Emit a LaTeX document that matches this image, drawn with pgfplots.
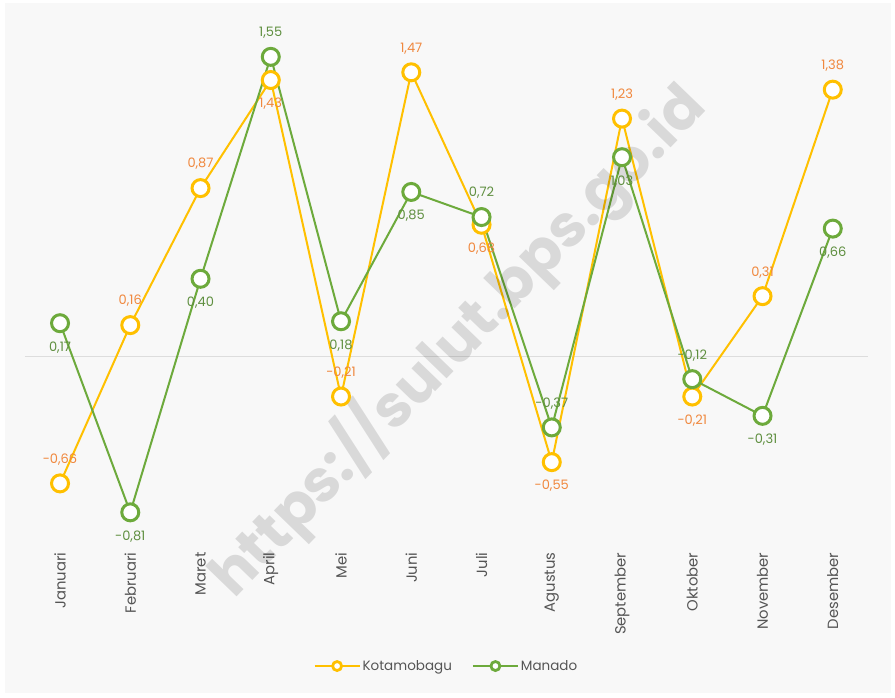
\documentclass[border=0pt]{standalone}
\usepackage{fontspec}
\setmainfont{Poppins}
\usepackage{pgfplots}
\pgfplotsset{compat=1.18}
\usepackage{pgfplotstable}

\definecolor{kota}{HTML}{FFC000}
\definecolor{kotalab}{HTML}{F0883E}
\definecolor{mnd}{HTML}{6DAA3C}
\definecolor{mndlab}{HTML}{5F8F40}
\definecolor{panel}{HTML}{F8F8F8}
\definecolor{ticktext}{HTML}{555555}
\definecolor{zeroline}{HTML}{DDDDDD}

% x  value  label position (1 = above, -1 = below)
\pgfplotstableread{
x y pos
0 -0.66 1
1 0.16 1
2 0.87 1
3 1.43 -1
4 -0.21 1
5 1.47 1
6 0.68 -1
7 -0.55 -1
8 1.23 1
9 -0.21 -1
10 0.31 1
11 1.38 1
}\kotamobagu

\pgfplotstableread{
x y pos
0 0.17 -1
1 -0.81 -1
2 0.40 -1
3 1.55 1
4 0.18 -1
5 0.85 -1
6 0.72 1
7 -0.37 1
8 1.03 -1
9 -0.12 1
10 -0.31 -1
11 0.66 -1
}\manado

\pgfplotsset{
  series/.style={
    line width=2pt, mark=*, mark size=8.5pt,
    mark options={fill=white, draw=#1, line width=3pt},
    nodes near coords={\pgfmathprintnumber[fixed, fixed zerofill, precision=2, use comma, assume math mode=true]{\pgfplotspointmeta}},
    visualization depends on={\thisrow{pos} \as \labpos},
    every node near coord/.append style={anchor=center, yshift=\labpos*24pt,
      font=\fontsize{13}{15}\selectfont},
  },
}

\begin{document}
\begin{tikzpicture}[x=1pt, y=1pt]
\fill[white] (0,0) rectangle (895,697);
\fill[panel] (5,4) rectangle (891,694);
\begin{axis}[
  at={(24.9pt,148pt)}, anchor=south west,
  scale only axis, width=843pt, height=521.1pt,
  xmin=-0.5, xmax=11.5, ymin=-1, ymax=1.7,
  clip=false,
  axis line style={draw=none},
  tick style={draw=none},
  ytick=\empty,
  xtick={0,...,11},
  xticklabels={Januari,Februari,Maret,April,Mei,Juni,Juli,Agustus,September,Oktober,November,Desember},
  xticklabel style={rotate=90, anchor=east, text=ticktext,
    font=\fontsize{14.8}{17}\selectfont},
  legend style={at={(axis description cs:0.5,-0.2246)}, anchor=center,
    draw=none, fill=none, legend columns=2, text=ticktext,
    font=\fontsize{13.5}{16}\selectfont,
    /tikz/every even column/.append style={column sep=18pt}},
  legend image code/.code={
    \draw[#1, mark=none] (0pt,0pt) -- (45pt,0pt);
    \draw[#1, mark size=4.5pt, mark options={fill=white, line width=2.8pt}] plot coordinates {(22.5pt,0pt)};
  },
]
\draw[zeroline, line width=1pt] (axis cs:-0.5,0) -- (axis cs:11.5,0);

\addplot[kota, series=kota, every node near coord/.append style={text=kotalab}]
  table[x=x, y=y] {\kotamobagu};
\addlegendentry{Kotamobagu}

\addplot[mnd, series=mnd, every node near coord/.append style={text=mndlab}]
  table[x=x, y=y] {\manado};
\addlegendentry{Manado}

\node[rotate=46, text=black, opacity=0.12, font=\fontsize{59}{70}\selectfont\bfseries]
  at (axis cs:5.65,0.08) {https://sulut.bps.go.id};
\end{axis}
\end{tikzpicture}
\end{document}
